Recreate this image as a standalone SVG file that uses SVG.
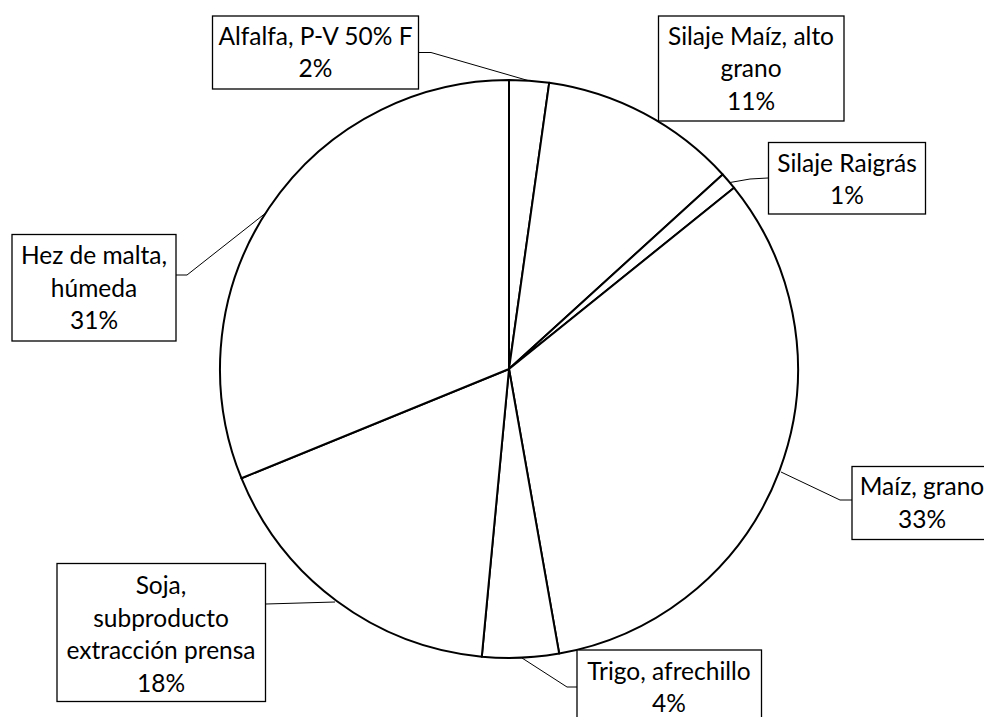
<svg xmlns="http://www.w3.org/2000/svg" width="984" height="717" viewBox="0 0 984 717">
<style>
.slice{fill:#fff;stroke:#000;stroke-width:2;stroke-linejoin:round}
.box{fill:#fff;stroke:#000;stroke-width:1.3}
.lead{fill:none;stroke:#000;stroke-width:1}
text{font-family:Lato,"Liberation Sans",sans-serif;font-size:24.5px;fill:#000;text-anchor:middle}
</style>
<rect width="984" height="717" fill="#fff"/>
<g id="pie">
<path id="s-alfalfa" class="slice" d="M509,369 L509,80 A289,289 0 0 1 549.2,82.8 Z"/>
<path id="s-silajemaiz" class="slice" d="M509,369 L549.2,82.8 A289,289 0 0 1 722.7,174.5 Z"/>
<path id="s-raigras" class="slice" d="M509,369 L722.7,174.5 A289,289 0 0 1 734.1,187.8 Z"/>
<path id="s-maiz" class="slice" d="M509,369 L734.1,187.8 A289,289 0 0 1 559.2,653.6 Z"/>
<path id="s-trigo" class="slice" d="M509,369 L559.2,653.6 A289,289 0 0 1 481.8,656.7 Z"/>
<path id="s-soja" class="slice" d="M509,369 L481.8,656.7 A289,289 0 0 1 241.4,478.2 Z"/>
<path id="s-hez" class="slice" d="M509,369 L241.4,478.2 A289,289 0 0 1 509,80 Z"/>
</g>
<g id="connectors">
<polyline class="lead" points="418,52.5 431,52.5 528,80.5"/>
<polyline class="lead" points="768,178 750,179 730,182.5"/>
<polyline class="lead" points="176,275 187,275 267,212"/>
<polyline class="lead" points="852,500 840,500 781,472"/>
<polyline class="lead" points="266,604 335,602"/>
<polyline class="lead" points="577,687 567,687 522,658"/>
</g>
<g id="label-alfalfa">
<rect class="box" x="212.5" y="16" width="206" height="73"/>
<text x="315.5" y="45">Alfalfa, P-V 50% F</text>
<text x="315.5" y="77">2%</text>
</g>
<g id="label-silajemaiz">
<rect class="box" x="658.5" y="16" width="185.5" height="105"/>
<text x="751" y="45">Silaje Maíz, alto</text>
<text x="751" y="77">grano</text>
<text x="751" y="110">11%</text>
</g>
<g id="label-raigras">
<rect class="box" x="768.5" y="142.5" width="157" height="71.5"/>
<text x="847" y="172">Silaje Raigrás</text>
<text x="847" y="204">1%</text>
</g>
<g id="label-hez">
<rect class="box" x="12" y="234.5" width="164" height="106.5"/>
<text x="94" y="264">Hez de malta,</text>
<text x="94" y="296.5">húmeda</text>
<text x="94" y="329">31%</text>
</g>
<g id="label-maiz">
<rect class="box" x="852" y="466.5" width="140" height="73"/>
<text x="922" y="495">Maíz, grano</text>
<text x="922" y="527.5">33%</text>
</g>
<g id="label-soja">
<rect class="box" x="57" y="563.5" width="208.5" height="138"/>
<text x="161" y="593.5">Soja,</text>
<text x="161" y="626.5">subproducto</text>
<text x="161" y="659">extracción prensa</text>
<text x="161" y="691.5">18%</text>
</g>
<g id="label-trigo">
<rect class="box" x="577" y="650" width="184.5" height="73"/>
<text x="669" y="679.5">Trigo, afrechillo</text>
<text x="669" y="712">4%</text>
</g>
</svg>
